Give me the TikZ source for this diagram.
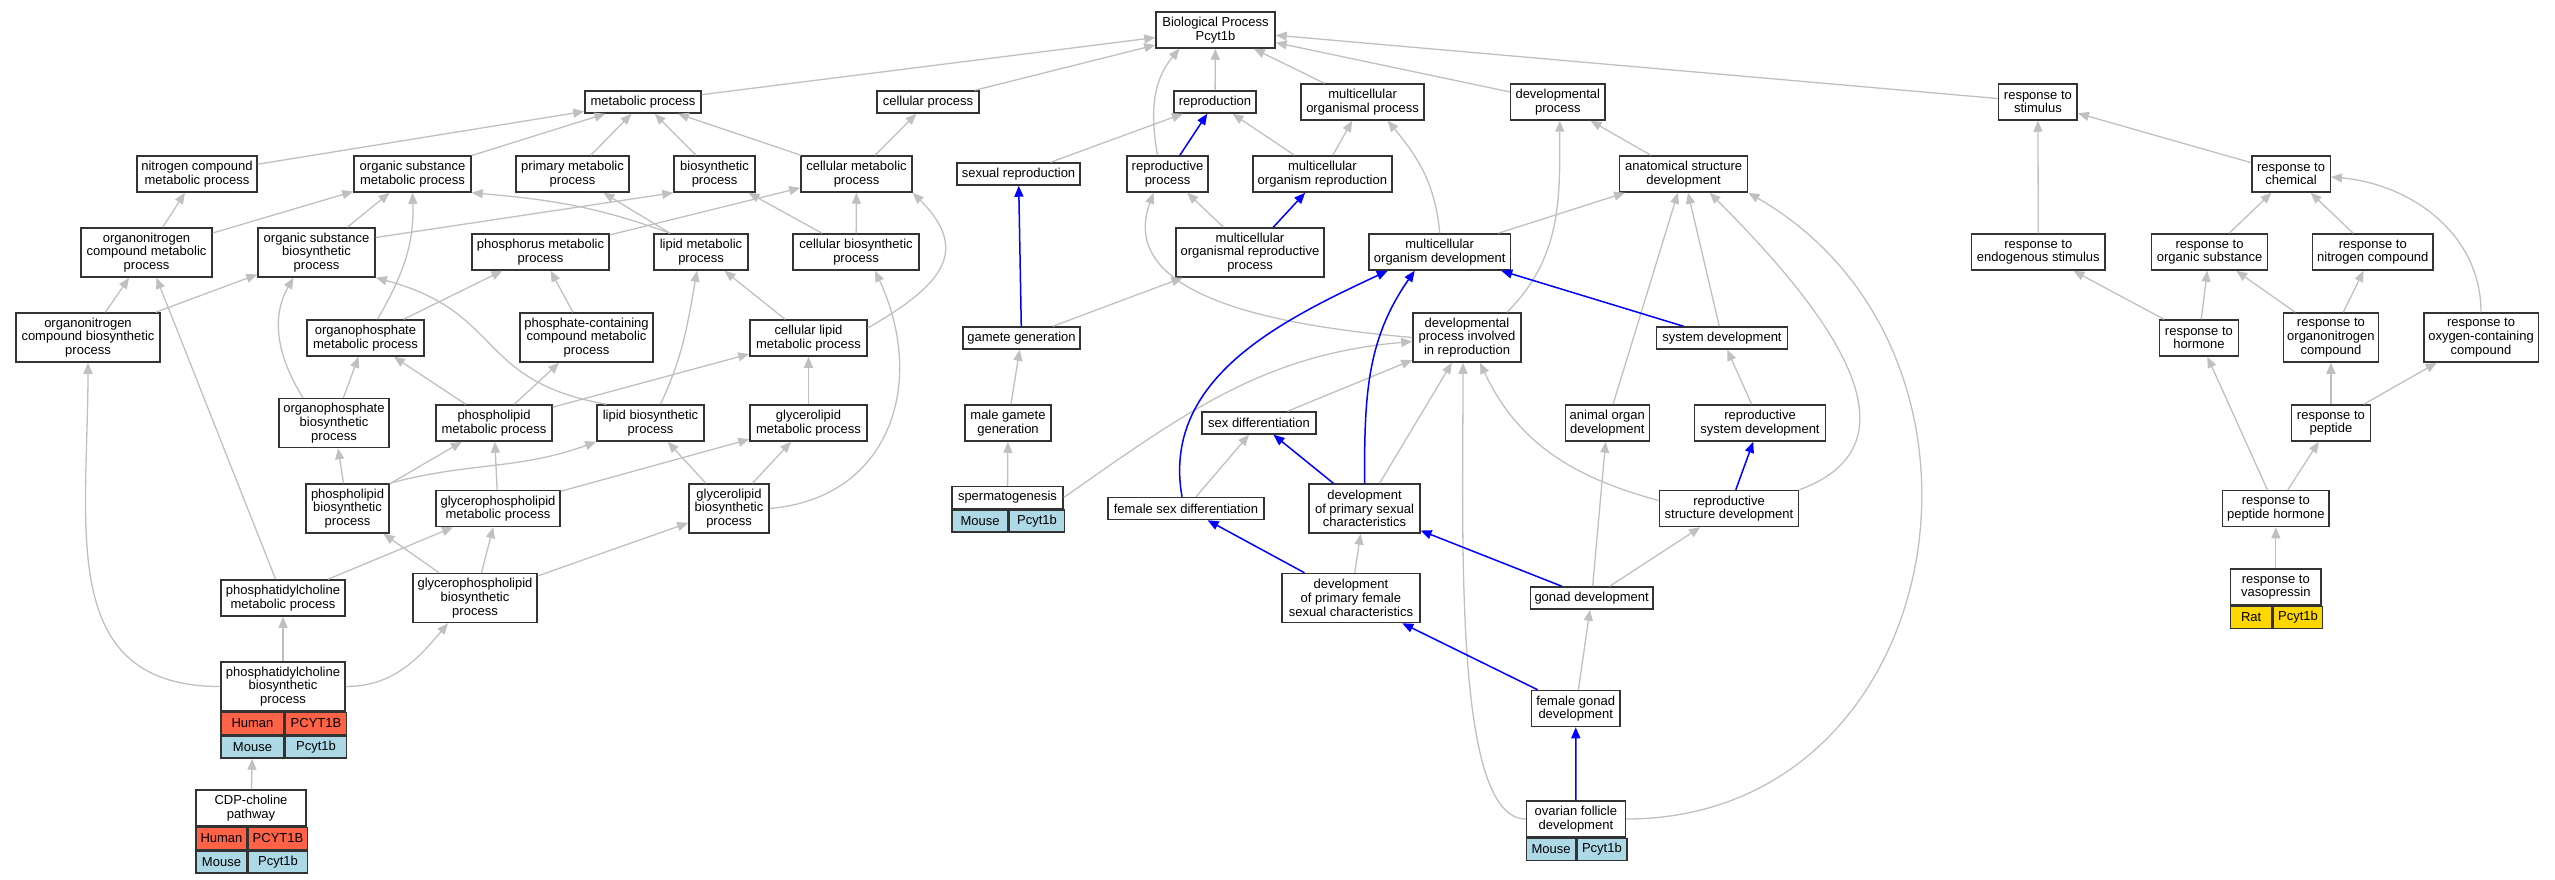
\documentclass[tikz,border=0pt]{standalone}
\usepackage{fontspec}
\setmainfont{Liberation Sans}
\usetikzlibrary{arrows.meta}
\definecolor{human}{HTML}{FF6347}
\definecolor{mouse}{HTML}{ADD8E6}
\definecolor{rat}{HTML}{FFD700}
\definecolor{isagrey}{HTML}{C0C0C0}
\definecolor{frame}{HTML}{333333}

\begin{document}
\begin{tikzpicture}[x=1pt, y=1pt,
      term/.style = {draw=frame, line width=1.5pt, fill=white, rectangle, align=center, inner sep=1pt, minimum height=36, font=\fontsize{13}{13.7}\selectfont},
      oneline/.style = {minimum height=22},
      threeline/.style = {minimum height=49},
      cell/.style = {draw=frame, line width=1.5pt, anchor=north west, inner sep=1pt, minimum height=22, font=\fontsize{13}{13.7}\selectfont},
      rel/.style = {isagrey, line width=1.3pt, -{Triangle[length=11pt,width=9pt]}},
      relb/.style = {blue, line width=1.5pt, -{Triangle[length=11pt,width=9pt]}}]
      \useasboundingbox (0,0) rectangle (2555,-880);

      \node[term, minimum width=119] (bp) at (1215.5,-30) {Biological Process\\Pcyt1b};

      % level 1
      \node[term, oneline, minimum width=116] (metab) at (643,-102) {metabolic process};
      \node[term, oneline, minimum width=102] (cellp) at (928,-102) {cellular process};
      \node[term, oneline, minimum width=82] (repro) at (1215,-102) {reproduction};
      \node[term, minimum width=123] (mop) at (1362.6,-102) {multicellular\\organismal process};
      \node[term, minimum width=94.5] (devp) at (1557.8,-102) {developmental\\process};
      \node[term, minimum width=78.5] (rstim) at (2037.9,-102) {response to\\stimulus};

      % level 2
      \node[term, minimum width=120] (ncmp) at (197,-174) {nitrogen compound\\metabolic process};
      \node[term, minimum width=117] (osmp) at (412.5,-174) {organic substance\\metabolic process};
      \node[term, minimum width=113] (pmp) at (572.5,-174) {primary metabolic\\process};
      \node[term, minimum width=81] (bsp) at (714.5,-174) {biosynthetic\\process};
      \node[term, minimum width=111] (cmp) at (856.5,-174) {cellular metabolic\\process};
      \node[term, oneline, minimum width=123] (sexr) at (1018.5,-174) {sexual reproduction};
      \node[term, minimum width=81] (rp) at (1167.5,-174) {reproductive\\process};
      \node[term, minimum width=138.8] (mor) at (1322.4,-174) {multicellular\\organism reproduction};
      \node[term, minimum width=128] (asd) at (1683.6,-174) {anatomical structure\\development};
      \node[term, minimum width=78.5] (rchem) at (2291,-174) {response to\\chemical};

      % level 3
      \node[term, threeline, minimum width=131] (oncmp) at (146.5,-252.5) {organonitrogen\\compound metabolic\\process};
      \node[term, threeline, minimum width=117] (osbp) at (316.5,-252.5) {organic substance\\biosynthetic\\process};
      \node[term, minimum width=137] (phmp) at (540.5,-252) {phosphorus metabolic\\process};
      \node[term, minimum width=94] (lmp) at (701,-252) {lipid metabolic\\process};
      \node[term, minimum width=126] (cbp) at (856,-252) {cellular biosynthetic\\process};
      \node[term, threeline, minimum width=148] (morp) at (1250,-252.5) {multicellular\\organismal reproductive\\process};
      \node[term, minimum width=141.6] (mod) at (1439.7,-252) {multicellular\\organism development};
      \node[term, minimum width=133.7] (rendo) at (2038.3,-252) {response to\\endogenous stimulus};
      \node[term, minimum width=116] (rorg) at (2209.6,-252) {response to\\organic substance};
      \node[term, minimum width=120.3] (rnitro) at (2372.8,-252) {response to\\nitrogen compound};

      % level 4
      \node[term, threeline, minimum width=144] (oncbp) at (88,-337.5) {organonitrogen\\compound biosynthetic\\process};
      \node[term, minimum width=117] (opmp) at (365.5,-338) {organophosphate\\metabolic process};
      \node[term, threeline, minimum width=133] (pccmp) at (586.5,-337.5) {phosphate-containing\\compound metabolic\\process};
      \node[term, minimum width=117] (clmp) at (808.5,-338) {cellular lipid\\metabolic process};
      \node[term, oneline, minimum width=117] (gamg) at (1021.5,-338) {gamete generation};
      \node[term, threeline, minimum width=108] (dpir) at (1467,-337.5) {developmental\\process involved\\in reproduction};
      \node[term, oneline, minimum width=131] (sysd) at (1722,-338) {system development};
      \node[term, minimum width=79] (rhorm) at (2198.9,-338) {response to\\hormone};
      \node[term, threeline, minimum width=94.8] (ronc) at (2330.9,-337.5) {response to\\organonitrogen\\compound};
      \node[term, threeline, minimum width=114.5] (roxy) at (2481,-337.5) {response to\\oxygen-containing\\compound};

      % level 5
      \node[term, threeline, minimum width=110] (opbp) at (334,-423) {organophosphate\\biosynthetic\\process};
      \node[term, minimum width=116] (plmp) at (494,-423) {phospholipid\\metabolic process};
      \node[term, minimum width=107] (lbp) at (650.5,-423) {lipid biosynthetic\\process};
      \node[term, minimum width=117] (glmp) at (808.5,-423) {glycerolipid\\metabolic process};
      \node[term, minimum width=86] (mgg) at (1008,-423) {male gamete\\generation};
      \node[term, oneline, minimum width=114] (sexd) at (1259,-423) {sex differentiation};
      \node[term, minimum width=84] (aod) at (1607.3,-423) {animal organ\\development};
      \node[term, minimum width=131] (rsysd) at (1760,-423) {reproductive\\system development};
      \node[term, minimum width=79] (rpep) at (2330.9,-423) {response to\\peptide};

      % level 6
      \node[term, threeline, minimum width=83] (plbp) at (347.5,-508.5) {phospholipid\\biosynthetic\\process};
      \node[term, minimum width=124] (gpmp) at (498,-508.5) {glycerophospholipid\\metabolic process};
      \node[term, threeline, minimum width=80] (glbp) at (729,-508.5) {glycerolipid\\biosynthetic\\process};
      \node[term, oneline, minimum width=111] (sperm) at (1007.5,-497.5) {spermatogenesis};
      \node[cell, fill=mouse, minimum width=56] (spermM) at (sperm.south west) {Mouse};
      \node[cell, fill=mouse, minimum width=55] (spermMg) at (spermM.north east) {Pcyt1b};
      \node[term, oneline, minimum width=156] (fsd) at (1186,-508.5) {female sex differentiation};
      \node[term, threeline, minimum width=110.6] (dpsc) at (1364.5,-508.5) {development\\of primary sexual\\characteristics};
      \node[term, minimum width=139] (rsd) at (1729,-508.5) {reproductive\\structure development};
      \node[term, minimum width=106.5] (rph) at (2275.8,-508.5) {response to\\peptide hormone};

      % level 7
      \node[term, minimum width=124] (pcmp) at (283,-598) {phosphatidylcholine\\metabolic process};
      \node[term, threeline, minimum width=124] (gpbp) at (475,-598) {glycerophospholipid\\biosynthetic\\process};
      \node[term, threeline, minimum width=138] (dpfsc) at (1350.9,-598) {development\\of primary female\\sexual characteristics};
      \node[term, oneline, minimum width=122.4] (gond) at (1591.6,-598) {gonad development};
      \node[term, minimum width=90.7] (vaso) at (2275.8,-587) {response to\\vasopressin};
      \node[cell, fill=rat, minimum width=41.4] (vasoR) at (vaso.south west) {Rat};
      \node[cell, fill=rat, minimum width=49.3] (vasoRg) at (vasoR.north east) {Pcyt1b};

      % level 8
      \node[term, threeline, minimum width=124] (pcbp) at (283,-686.5) {phosphatidylcholine\\biosynthetic\\process};
      \node[cell, fill=human, minimum width=63] (pcbpH) at (pcbp.south west) {Human};
      \node[cell, fill=human, minimum width=61] (pcbpHg) at (pcbpH.north east) {PCYT1B};
      \node[cell, fill=mouse, minimum width=63] (pcbpM) at (pcbpH.south west) {Mouse};
      \node[cell, fill=mouse, minimum width=61] (pcbpMg) at (pcbpM.north east) {Pcyt1b};
      \node[term, minimum width=88.4] (fgd) at (1575.7,-708.5) {female gonad\\development};

      % level 9
      \node[term, minimum width=110] (cdp) at (251,-808) {CDP-choline\\pathway};
      \node[cell, fill=human, minimum width=51] (cdpH) at (cdp.south west) {Human};
      \node[cell, fill=human, minimum width=59] (cdpHg) at (cdpH.north east) {PCYT1B};
      \node[cell, fill=mouse, minimum width=51] (cdpM) at (cdpH.south west) {Mouse};
      \node[cell, fill=mouse, minimum width=59] (cdpMg) at (cdpM.north east) {Pcyt1b};
      \node[term, minimum width=98.7] (ofd) at (1575.9,-819) {ovarian follicle\\development};
      \node[cell, fill=mouse, minimum width=49] (ofdM) at (ofd.south west) {Mouse};
      \node[cell, fill=mouse, minimum width=49.7] (ofdMg) at (ofdM.north east) {Pcyt1b};

      \path[rel]
      (metab) edge (bp)
      (cellp) edge (bp)
      ([xshift=-10]rp.north) edge[out=100, in=-130] ([xshift=-36]bp.south)
      (repro) edge (bp)
      (mop) edge (bp)
      (devp) edge (bp)
      (rstim) edge (bp)
      (ncmp) edge (metab)
      (osmp) edge (metab)
      (pmp) edge (metab)
      (bsp) edge (metab)
      (cmp) edge (metab)
      (cmp) edge (cellp)
      (sexr) edge (repro)
      (mor) edge (repro)
      (mor) edge (mop)
      (mod.north) edge[out=95, in=-50] ([xshift=25]mop.south)
      ([xshift=40]dpir.north) edge[out=45, in=-90] ([xshift=2]devp.south)
      (asd) edge (devp)
      (rchem) edge (rstim)
      (rendo) edge (rstim)
      (oncmp) edge (ncmp)
      (oncmp) edge (osmp)
      (osbp) edge (osmp)
      ([xshift=12]opmp.north) edge[out=60, in=-88] (osmp.south)
      ([xshift=-31]lmp.north) edge[out=160, in=-5] (osmp.south east)
      (lmp) edge (pmp)
      ([yshift=15]osbp.east) edge (bsp.south west)
      (cbp) edge (bsp)
      (phmp) edge (cmp)
      (cbp) edge (cmp)
      ([yshift=10]clmp.east) edge[out=30, in=-45, looseness=1.5] (cmp.south east)
      (oncbp) edge (oncmp)
      (pcmp) edge (oncmp)
      (oncbp) edge (osbp)
      ([xshift=-31]opbp.north) edge[out=122, in=-120] ([xshift=-23]osbp.south)
      ([xshift=-44]lbp.north) edge[out=170, in=-15, looseness=1.3] (osbp.south east)
      (opmp) edge (phmp)
      (pccmp) edge (phmp)
      ([xshift=10]lbp.north) edge[out=65, in=-100] ([xshift=-4]lmp.south)
      (clmp) edge (lmp)
      (glbp.east) edge[out=5, in=-65, looseness=1.2] ([xshift=19]cbp.south)
      (morp) edge (rp)
      (dpir.west) edge[out=175, in=-110] ([xshift=-14]rp.south)
      (gamg) edge (morp)
      (mod) edge (asd)
      (aod) edge (asd)
      (sysd) edge (asd)
      (rsd.north east) edge[out=20, in=-45, looseness=1.2] ([xshift=26]asd.south)
      (ofd) edge[out=0, in=-30, looseness=1.3] (asd.south east)
      (rorg) edge (rchem)
      (rnitro) edge (rchem)
      (roxy) edge[out=90, in=-5] ([yshift=-3]rchem.east)
      (pcbp) edge[out=180, in=-90, looseness=1.2] (oncbp)
      (opbp) edge (opmp)
      (plmp) edge (opmp)
      (plmp) edge (pccmp)
      (plmp) edge (clmp)
      (glmp) edge (clmp)
      (mgg) edge (gamg)
      (sperm.east) edge[out=35, in=185] ([yshift=-4]dpir.west)
      (sexd) edge (dpir)
      (dpsc) edge (dpir)
      (ofd) edge[out=180, in=-90, out looseness=0.4] ([xshift=-4]dpir.south)
      ([yshift=8]rsd.west) edge[out=165, in=-65] ([xshift=13]dpir.south)
      (rsysd) edge (sysd)
      (rhorm) edge (rendo)
      (rhorm) edge (rorg)
      (ronc) edge (rorg)
      (ronc) edge (rnitro)
      (plbp) edge (opbp)
      (plbp) edge (plmp)
      (plbp.north east) edge[out=15, in=-160] (lbp.south west)
      (gpmp) edge (plmp)
      (gpmp) edge (glmp)
      (glbp) edge (lbp)
      (glbp) edge (glmp)
      (sperm) edge (mgg)
      (fsd) edge (sexd)
      (gond) edge (aod)
      (gond) edge (rsd)
      (rpep) edge (ronc)
      (rpep) edge (roxy)
      (gpbp) edge (plbp)
      (gpbp) edge (gpmp)
      (gpbp) edge (glbp)
      (pcmp) edge (gpmp)
      (dpfsc) edge (dpsc)
      (rph) edge (rhorm)
      (rph) edge (rpep)
      (pcbp) edge (pcmp)
      (pcbp) edge[out=0, in=-130] ([xshift=-27]gpbp.south)
      (fgd) edge (gond)
      (vaso) edge (rph)
      (cdp) edge (pcbpM);

      \path[relb]
      (rp) edge (repro)
      (gamg) edge (sexr)
      (morp) edge (mor)
      ([xshift=-4]fsd.north) edge[out=100, in=-155] ([xshift=-52]mod.south)
      (dpsc.north) edge[out=90, in=-125] ([xshift=-25]mod.south)
      (sysd) edge (mod)
      (dpsc) edge (sexd)
      (dpfsc) edge (fsd)
      (gond) edge (dpsc)
      (fgd) edge (dpfsc)
      (ofd) edge (fgd)
      (rsd) edge (rsysd);
\end{tikzpicture}
\end{document}
